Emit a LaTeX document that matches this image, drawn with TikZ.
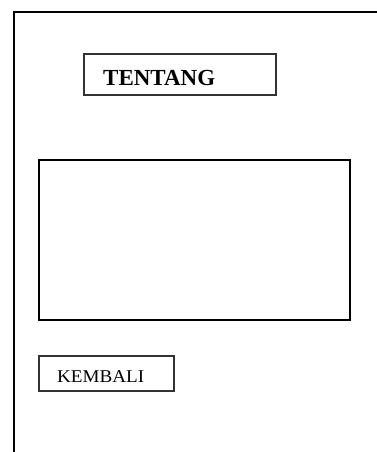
\documentclass[tikz,border=0pt]{standalone}
\usepackage{fontspec}
\setmainfont{Liberation Serif}
\begin{document}
\begin{tikzpicture}[x=1pt,y=-1pt,
  thinbox/.style={draw=black!80,line width=1.3pt},
  thickbox/.style={draw=black,line width=2.6pt},
  frameline/.style={draw=black,line width=2.6pt}]
\useasboundingbox (0,0) rectangle (376,452);
\coordinate (ftr) at (377,12);
\coordinate (ftl) at (14,12);
\coordinate (fbl) at (14,453);
\draw[frameline] (ftr) -- (ftl) -- (fbl);
\draw[thinbox] (84,54) rectangle (276,95);
\node[anchor=base west,inner sep=0pt,font=\fontsize{23}{26}\selectfont\bfseries] (tentang) at (103,85) {TENTANG};
\draw[thickbox] (39,160) rectangle (350,320);
\draw[thinbox] (39,356) rectangle (174,391);
\node[anchor=base west,inner sep=0pt,font=\fontsize{18}{21}\selectfont] (kembali) at (57,382.5) {\scalebox{1.06}[1]{KEMBALI}};
\end{tikzpicture}
\end{document}
